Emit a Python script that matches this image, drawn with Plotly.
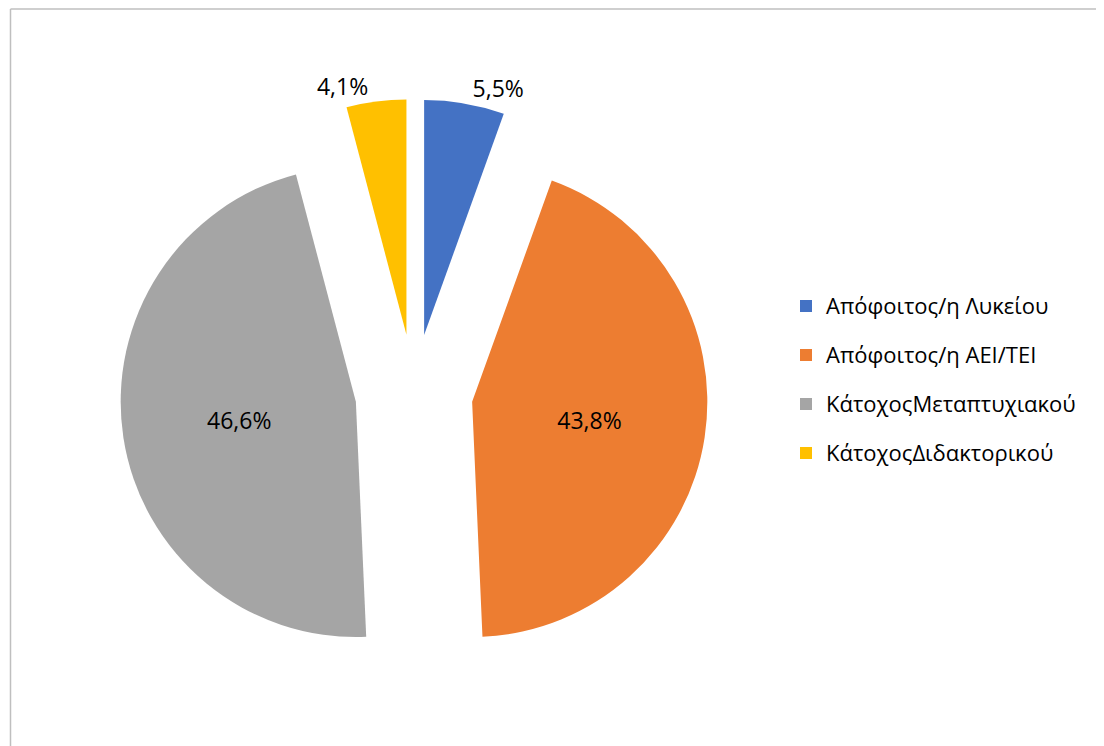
import plotly.graph_objects as go

labels = ["Απόφοιτος/η Λυκείου", "Απόφοιτος/η ΑΕΙ/ΤΕΙ", "ΚάτοχοςΜεταπτυχιακού", "ΚάτοχοςΔιδακτορικού"]
values = [5.5, 43.8, 46.6, 4.1]
colors = ["#4472C4", "#ED7D31", "#A5A5A5", "#FFC000"]
text_positions = ["outside", "inside", "inside", "outside"]

# the page body adds an 8px offset; the figure is sized to fill the remaining window
OFF = 8
W, H = 1104 - OFF, 746 - OFF
font_family = "'Open Sans', sans-serif"
label_size = 23
legend_text_size = 22
legend_row_size = 35.4  # sets the legend row pitch (~49px)

legend_labels = [
    f"<span style='font-size:{legend_text_size}px;baseline-shift:6px'>{lab}</span>" for lab in labels
]


def px_x(p):
    return (p - OFF) / W


def px_y(p):
    return 1 - (p - OFF) / H


fig = go.Figure(
    go.Pie(
        labels=legend_labels,
        values=values,
        sort=False,
        direction="clockwise",
        rotation=0,
        pull=[0.25] * 4,
        marker=dict(colors=colors, line=dict(width=0)),
        texttemplate="%{value:.1f}%",
        textposition=text_positions,
        insidetextorientation="horizontal",
        textfont=dict(family=font_family, size=label_size, color="#000000"),
        hoverinfo="percent",
        domain=dict(x=[px_x(120), px_x(708)], y=[px_y(687), px_y(99)]),
    )
)

border = dict(color="#BFBFBF", width=1.5)
fig.update_layout(
    width=W,
    height=H,
    margin=dict(l=0, r=0, t=0, b=0, autoexpand=False),
    paper_bgcolor="white",
    plot_bgcolor="white",
    separators=",.",
    font=dict(family=font_family, size=label_size, color="#000000"),
    legend=dict(
        x=px_x(786),
        y=px_y(380),
        xanchor="left",
        yanchor="middle",
        font=dict(family=font_family, size=legend_row_size, color="#000000"),
        itemwidth=30,
    ),
    shapes=[
        dict(type="line", xref="paper", yref="paper",
             x0=px_x(10.5), x1=px_x(10.5), y0=-0.05, y1=px_y(9), line=border),
        dict(type="line", xref="paper", yref="paper",
             x0=px_x(10.5), x1=1.05, y0=px_y(9), y1=px_y(9), line=border),
    ],
)

fig.write_html("out.html")
